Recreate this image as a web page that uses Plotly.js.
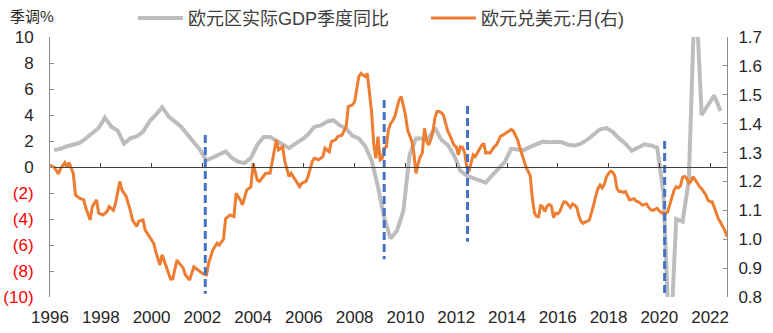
<!DOCTYPE html>
<html>
<head>
<meta charset="utf-8">
<script src="https://cdn.plot.ly/plotly-3.0.1.min.js"></script>
<style>html,body{margin:0;padding:0;background:#fff;}#chart{width:773px;height:333px;}</style>
</head>
<body>
<div id="chart"></div>
<script>
// Euro area real GDP YoY (%), quarterly, 1996Q1 - 2022Q2 (dated at quarter-end month)
var gdpStart = [1996, 3];
var gdpValues = [
  1.3, 1.4, 1.6, 1.75, 1.85, 2.2, 2.6, 3.0, 3.8, 3.1, 2.8, 1.8, 2.2, 2.35, 2.7, 3.5,
  4.0, 4.6, 3.9, 3.5, 3.1, 2.5, 1.9, 1.3, 0.5, 0.75, 1.0, 1.2, 0.7, 0.4, 0.3, 0.7,
  1.7, 2.3, 2.3, 2.0, 1.7, 1.45, 1.8, 2.1, 2.5, 3.1, 3.2, 3.5, 3.6, 3.2, 2.95, 2.4,
  2.2, 1.6, 0.5, -1.5, -3.9, -5.5, -4.9, -3.4, 0.9, 2.2, 2.2, 2.2, 3.0, 2.1, 1.7, 0.9,
  -0.3, -0.65, -0.85, -1.05, -1.2, -0.65, -0.1, 0.4, 1.4, 1.35, 1.3, 1.55, 1.75, 1.95, 1.9, 1.95,
  1.9, 1.7, 1.65, 1.8, 2.1, 2.5, 2.9, 3.0, 2.7, 2.2, 1.8, 1.25, 1.5, 1.75, 1.65, 1.5,
  -2.0, -14.5, -4.0, -4.2, -1.0, 14.5, 4.0, 4.7, 5.5, 4.3
];
// EUR/USD monthly (right axis): [month index from 1996-01, value]
var fxMonths = [
  0,2,4,5,7,8,9,11,12,14,16,17,19,20,22,23,25,27,28,30,31,33,34,36,38,39,41,42,44,45,47,
  49,50,52,53,55,57,58,60,61,63,64,66,68,69,71,72,74,75,77,79,80,82,83,85,87,88,90,91,93,95,
  96,98,99,101,102,104,106,107,108,110,111,113,114,116,118,119,121,122,124,125,127,129,130,
  132,133,135,136,138,140,141,143,144,146,147,149,150,151,152,153,154,155,156,157,158,159,
  160,161,162,163,164,165,166,167,168,169,170,171,172,173,174,175,176,177,178,179,180,181,
  182,183,184,185,186,187,188,189,190,191,192,193,194,195,196,197,198,199,200,201,202,203,
  204,205,206,207,208,209,210,211,212,213,214,215,216,217,218,219,220,221,222,223,224,225,
  226,227,228,229,230,231,232,233,234,235,236,237,238,239,240,241,242,243,244,245,246,247,
  248,249,250,251,252,253,254,255,256,257,258,259,260,261,262,263,264,265,266,267,268,269,
  270,271,272,273,274,275,276,277,278,279,280,281,282,283,284,285,286,287,288,289,290,291,
  292,293,294,295,296,297,298,299,300,301,302,303,304,305,306,307,308,309,310,311,312,313,
  314,315,316,317,318,319,320
];
var fxValues = [
  1.257,1.249,1.226,1.245,1.265,1.25,1.265,1.228,1.153,1.142,1.136,1.107,1.067,1.113,1.136,1.09,
  1.084,1.096,1.113,1.1,1.125,1.2,1.17,1.148,1.1,1.067,1.044,1.062,1.067,1.032,1.009,
  0.986,0.957,0.911,0.946,0.905,0.862,0.863,0.928,0.917,0.9,0.877,0.859,0.905,0.9,0.888,0.882,
  0.877,0.917,0.963,0.986,0.98,1.0,1.07,1.084,1.078,1.159,1.136,1.119,1.17,1.182,
  1.263,1.205,1.2,1.217,1.228,1.228,1.309,1.344,1.309,1.32,1.269,1.217,1.228,1.205,1.182,1.194,
  1.2,1.217,1.269,1.28,1.275,1.286,1.315,
  1.303,1.338,1.344,1.355,1.36,1.39,1.459,1.465,1.476,1.563,1.574,1.563,1.574,1.5,1.44,1.33,
  1.28,1.355,1.275,1.28,1.315,1.32,
  1.378,1.4,1.41,1.425,1.46,1.482,1.494,1.46,1.43,1.378,1.357,1.34,1.3,1.228,1.26,1.285,
  1.298,1.384,1.34,1.326,1.345,1.373,
  1.42,1.442,1.442,1.438,1.43,1.4,1.375,1.36,1.34,1.325,1.32,1.292,1.32,1.318,1.3,1.25,
  1.234,1.263,1.292,1.286,1.3,1.315,
  1.325,1.332,1.298,1.3,1.298,1.309,1.32,1.326,1.345,1.357,1.36,1.365,1.37,1.378,1.38,1.375,
  1.36,1.345,1.32,1.295,1.27,1.25,
  1.235,1.22,1.14,1.09,1.08,1.078,1.119,1.11,1.096,1.115,1.12,1.115,1.075,1.09,1.088,1.096,
  1.115,1.13,1.128,1.118,1.11,1.122,
  1.118,1.11,1.08,1.062,1.055,1.06,1.062,1.067,1.09,1.12,1.15,1.175,1.188,1.178,1.19,1.215,
  1.228,1.235,1.232,1.22,1.176,1.165,
  1.165,1.162,1.165,1.148,1.136,1.138,1.14,1.132,1.13,1.125,1.118,1.12,1.122,1.11,1.102,1.1,
  1.105,1.107,1.098,1.092,1.09,1.088,
  1.095,1.12,1.14,1.17,1.182,1.178,1.185,1.215,1.217,1.21,1.195,1.2,1.217,1.205,1.19,1.182,
  1.175,1.165,1.153,1.135,1.13,1.13,
  1.11,1.09,1.07,1.058,1.045,1.03,1.009
];
// Vertical dashed markers (left-axis units)
var markerDates = ['2002-02-12', '2009-03-01', '2012-06-12', '2020-03-18'];
var markerTop = [2.46, 5.15, 4.7, 2.0];
var markerBottom = [-9.75, -7.1, -5.75, -10];

var yearTicks = ['1996','1998','2000','2002','2004','2006','2008','2010','2012','2014','2016','2018','2020','2022'];
var leftTickVals = [10, 8, 6, 4, 2, 0, -2, -4, -6, -8, -10];
var leftTickText = ['10','8','6','4','2','0','(2)','(4)','(6)','(8)','(10)'];

function monthDate(y, m) {
  var yy = y + Math.floor((m - 1) / 12);
  var mm = ((m - 1) % 12) + 1;
  return yy + '-' + (mm < 10 ? '0' : '') + mm + '-01';
}
var gdpDates = gdpValues.map(function (_, i) { return monthDate(gdpStart[0], gdpStart[1] + 3 * i); });
var fxDates = fxMonths.map(function (m) { return monthDate(1996, 1 + m); });
var tickDates = yearTicks.map(function (y) { return y + '-01-01'; });
var leftText = leftTickText.map(function (t, i) {
  return leftTickVals[i] < 0 ? '<span style="color:#FF0000">' + t + '</span>' : t;
});

var FONT = 'Liberation Sans, Arial, Noto Sans CJK SC, sans-serif';
var xRange = ['1996-01-01', '2022-09-01'];

var traces = [
  { x: gdpDates, y: gdpValues, type: 'scatter', mode: 'lines', name: '欧元区实际GDP季度同比',
    line: { color: '#BDBDBD', width: 4 }, xaxis: 'x', yaxis: 'y' },
  { x: fxDates, y: fxValues, type: 'scatter', mode: 'lines', name: '欧元兑美元:月(右)',
    line: { color: '#ED7D31', width: 3 }, xaxis: 'x', yaxis: 'y2' }
];
markerDates.forEach(function (d, i) {
  traces.push({ x: [d, d], y: [markerTop[i], markerBottom[i]], type: 'scatter', mode: 'lines',
    showlegend: false, hoverinfo: 'skip', xaxis: 'x2', yaxis: 'y',
    line: { color: '#4472C4', width: 3, dash: '8px,4px' } });
});

var layout = {
  width: 773, height: 333,
  margin: { l: 50, r: 45.5, t: 37, b: 36 },
  paper_bgcolor: '#fff', plot_bgcolor: 'rgba(0,0,0,0)',
  font: { family: FONT, size: 17, color: '#262626' },
  showlegend: true,
  legend: { orientation: 'h', xref: 'container', yref: 'container', x: 0.172, y: 0.945,
    xanchor: 'left', yanchor: 'middle', font: { family: FONT, size: 18, color: '#404040' },
    itemwidth: 45, entrywidth: 233, traceorder: 'normal', bgcolor: 'rgba(0,0,0,0)' },
  xaxis: { type: 'date', range: xRange, showgrid: false, zeroline: false, showline: false,
    ticks: '', tickvals: tickDates, ticktext: yearTicks, tickfont: { size: 17, color: '#262626' },
    ticklabelstandoff: 8 },
  xaxis2: { type: 'date', range: xRange, overlaying: 'x', anchor: 'free', position: 0.5,
    showgrid: false, zeroline: false, showline: true, linecolor: '#404040', linewidth: 1,
    ticks: 'inside', ticklen: 4, tickcolor: '#404040', tickvals: tickDates, showticklabels: false },
  yaxis: { range: [-10, 10], tickvals: leftTickVals, ticktext: leftText, showgrid: false,
    zeroline: false, showline: true, linecolor: '#8C8C8C', linewidth: 1, ticks: 'inside',
    ticklen: 4, tickcolor: '#8C8C8C', tickfont: { size: 17, color: '#262626' }, ticklabelstandoff: 12 },
  yaxis2: { range: [0.8, 1.7], overlaying: 'y', side: 'right', dtick: 0.1, tick0: 0.8,
    tickformat: '.1f', showgrid: false, zeroline: false, showline: true, linecolor: '#8C8C8C',
    linewidth: 1, ticks: 'inside', ticklen: 4, tickcolor: '#8C8C8C',
    tickfont: { size: 17, color: '#262626' }, ticklabelstandoff: 7 },
  annotations: [
    { text: '季调%', xref: 'paper', yref: 'paper', x: 0, y: 1 + 22 / 260, xshift: -42,
      xanchor: 'left', yanchor: 'middle', showarrow: false,
      font: { family: 'Noto Sans CJK SC, Liberation Sans, sans-serif', size: 15, color: '#262626' } }
  ]
};

Plotly.newPlot('chart', traces, layout, { staticPlot: true, displayModeBar: false });
</script>
</body>
</html>
